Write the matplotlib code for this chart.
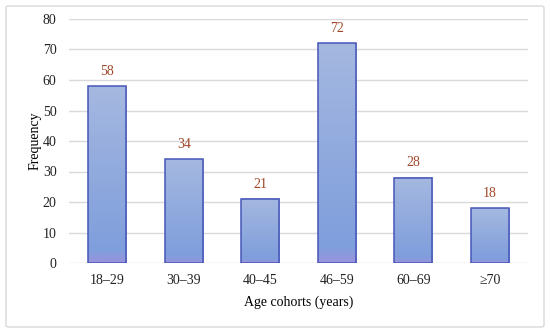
import matplotlib.pyplot as plt
import numpy as np
from matplotlib.colors import LinearSegmentedColormap
from matplotlib.patches import FancyBboxPatch

cohorts = ['18–29', '30–39', '40–45', '46–59', '60–69', '≥70']
freq = [58, 34, 21, 72, 28, 18]

plt.rcParams['font.family'] = ['Liberation Serif', 'DejaVu Serif']
plt.rcParams['font.size'] = 10

fig = plt.figure(figsize=(5.5, 3.32), dpi=100)
ax = fig.add_axes([69/550, 1 - 263/332, 459/550, 244/332])

# light frame round the whole chart
fig.patches.append(FancyBboxPatch((6/550, 5/332), 538/550, 321/332,
                                  boxstyle='round,pad=0,rounding_size=0.005',
                                  transform=fig.transFigure, fill=False,
                                  edgecolor='#d9d9d9', linewidth=1))

x = np.arange(len(cohorts))
bars = ax.bar(x, freq, width=0.5, color='none', edgecolor='#4656b8',
              linewidth=1.1, zorder=3)

cmap = LinearSegmentedColormap.from_list(
    'g', [(0, '#9a93dc'), (0.07, '#7f9edc'), (1, '#a5b8e0')])
grad = np.linspace(0, 1, 256).reshape(-1, 1)
for b in bars:
    x0, w, h = b.get_x(), b.get_width(), b.get_height()
    ax.imshow(grad, extent=(x0, x0 + w, 0, h), origin='lower', cmap=cmap,
              aspect='auto', zorder=2, interpolation='bicubic')
for b, v in zip(bars, freq):
    ax.annotate(str(v), (b.get_x() + b.get_width() / 2, v), xytext=(0, 6),
                textcoords='offset points', ha='center', va='bottom',
                color='#a0472a')

ax.set_xlim(-0.5, len(cohorts) - 0.5)
ax.set_ylim(0, 80)
ax.set_yticks(range(0, 81, 10))
ax.set_xticks(x)
ax.set_xticklabels(cohorts)
ax.grid(axis='y', color='#d9d9d9', linewidth=1, zorder=0)
for s in ax.spines.values():
    s.set_visible(False)
ax.tick_params(length=0, pad=8, colors='#222222')
ax.tick_params(axis='y', pad=9)
ax.set_xlabel('Age cohorts (years)', labelpad=6)
ax.set_ylabel('Frequency', labelpad=1)

fig.savefig('out.png', dpi=100)
